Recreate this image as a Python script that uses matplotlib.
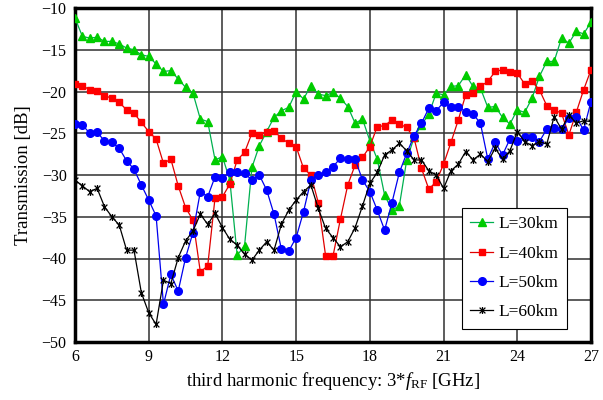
import numpy as np
import matplotlib
matplotlib.use("Agg")
import matplotlib.pyplot as plt
from matplotlib.path import Path

plt.rcParams['font.family'] = ['Liberation Serif', 'DejaVu Serif']
plt.rcParams['mathtext.fontset'] = 'custom'
plt.rcParams['mathtext.rm'] = 'Liberation Serif'
plt.rcParams['mathtext.it'] = 'Liberation Serif:italic'

freq = np.round(np.arange(6.0, 27.0001, 0.3), 1)

L30 = [-11.2, -13.4, -13.6, -13.5, -14.0, -14.0, -14.3, -14.8, -15.0, -15.6, -15.8, -16.7,
       -17.6, -17.5, -18.5, -19.5, -20.2, -23.3, -23.6, -28.2, -27.8, -30.6, -39.6, -38.5,
       -29.1, -26.5, -24.8, -23.1, -22.3, -21.9, -20.0, -20.9, -19.3, -20.3, -20.5, -20.1,
       -20.8, -21.8, -23.8, -23.3, -25.9, -28.1, -32.4, -34.2, -33.7, -28.2, -25.5, -24.0,
       -22.7, -20.2, -20.4, -19.4, -19.3, -18.0, -19.4, -19.6, -21.9, -21.8, -23.1, -23.9,
       -22.2, -22.5, -20.8, -18.2, -16.4, -16.4, -13.6, -14.2, -12.8, -13.1, -11.7]

L40 = [-19.1, -19.3, -19.8, -19.9, -20.5, -20.8, -21.3, -22.2, -22.6, -23.7, -24.8, -25.7,
       -28.6, -28.1, -31.3, -33.9, -35.4, -41.6, -40.9, -32.7, -32.6, -31.1, -28.2, -27.3,
       -25.0, -25.2, -24.8, -24.7, -25.6, -26.2, -26.6, -29.2, -30.0, -33.3, -39.7, -39.7,
       -35.3, -31.2, -28.8, -27.9, -26.6, -24.2, -24.1, -23.4, -23.9, -24.3, -25.6, -29.2,
       -31.7, -30.8, -28.7, -26.1, -23.4, -20.4, -20.2, -19.4, -18.8, -17.6, -17.4, -17.7,
       -17.8, -19.1, -18.8, -19.8, -21.7, -22.2, -22.6, -25.2, -22.5, -19.8, -17.4]

L50 = [-23.9, -24.0, -25.0, -24.9, -25.9, -26.1, -26.8, -28.3, -29.3, -31.2, -33.0, -34.9,
       -45.5, -41.9, -43.9, -39.9, -36.9, -32.0, -32.6, -30.2, -30.4, -29.6, -29.7, -29.8,
       -30.6, -30.0, -31.8, -34.7, -38.9, -39.1, -37.5, -34.4, -30.6, -30.0, -29.6, -29.0,
       -28.0, -28.1, -28.1, -30.6, -32.0, -34.2, -36.6, -33.3, -29.7, -27.4, -25.3, -23.8,
       -22.0, -22.3, -21.3, -21.9, -21.9, -22.4, -22.7, -23.8, -28.1, -26.1, -27.6, -25.7,
       -25.9, -25.4, -25.4, -26.0, -24.5, -24.4, -24.5, -23.2, -23.1, -24.6, -21.2]

L60 = [-30.6, -31.3, -32.0, -31.6, -33.8, -35.0, -36.0, -39.0, -39.0, -44.1, -46.5, -47.9,
       -42.6, -43.0, -39.9, -37.9, -36.7, -34.7, -35.9, -34.6, -36.3, -37.7, -38.4, -39.5,
       -40.2, -39.0, -38.0, -39.0, -35.9, -34.2, -33.0, -32.0, -31.2, -34.0, -36.4, -37.5,
       -38.6, -38.0, -36.3, -33.7, -31.0, -29.7, -27.6, -27.0, -26.2, -27.1, -28.2, -28.2,
       -29.5, -30.0, -31.6, -29.5, -28.7, -27.2, -28.2, -27.5, -28.4, -26.8, -28.1, -27.1,
       -24.8, -26.0, -26.5, -26.0, -26.3, -23.0, -24.5, -22.8, -23.8, -23.5, -23.6]

labels = ['L=30km', 'L=40km', 'L=50km', 'L=60km']
xticks = [6, 9, 12, 15, 18, 21, 24, 27]
yticks = [-50, -45, -40, -35, -30, -25, -20, -15, -10]

# Excel-like star marker: X plus vertical bar
star = Path([(-1, -1), (1, 1), (-1, 1), (1, -1), (0, -1.2), (0, 1.2)],
            [Path.MOVETO, Path.LINETO, Path.MOVETO, Path.LINETO, Path.MOVETO, Path.LINETO])

fig = plt.figure(figsize=(6.03, 4.0), dpi=100)
ax = fig.add_axes([0.1244, 0.145, 0.8557, 0.835])

ax.plot(freq, L30, color='#00b050', lw=0.9, marker='^', ms=6.2, mfc='#00cc00', mec='#00cc00',
        label=labels[0], zorder=3)
ax.plot(freq, L40, color='#e00000', lw=0.9, marker='s', ms=5.0, mfc='#ff0000', mec='#ff0000',
        label=labels[1], zorder=3)
ax.plot(freq, L50, color='#0000ee', lw=0.9, marker='o', ms=5.5, mfc='#0000ff', mec='#0000ff',
        label=labels[2], zorder=3)
ax.plot(freq, L60, color='black', lw=0.9, marker=star, ms=5.0, mfc='none', mec='black', mew=0.9,
        label=labels[3], zorder=3)

ax.set_xlim(6, 27)
ax.set_ylim(-50, -10)
ax.set_xticks(xticks)
ax.set_yticks(yticks)
ax.grid(True, color='#303030', lw=1.1, zorder=0)
ax.tick_params(length=0, labelsize=11.5, pad=6)
ax.tick_params(axis='x', pad=5)
for s in ax.spines.values():
    s.set_linewidth(2.5)
    s.set_color('black')

ax.set_ylabel('Transmission [dB]', fontsize=13.5, labelpad=7)
ax.set_xlabel(r'third harmonic frequency: 3*$f_{\mathrm{RF}}$ [GHz]', fontsize=13.5, labelpad=4)

leg = ax.legend(loc='lower right', bbox_to_anchor=(0.953, 0.04), fontsize=12.5, frameon=True,
                fancybox=False, edgecolor='black', framealpha=1, handlelength=1.3,
                handletextpad=0.3, labelspacing=0.75, borderpad=0.5, borderaxespad=0.0)
leg.get_frame().set_linewidth(0.8)

fig.savefig('out.png', dpi=100)
